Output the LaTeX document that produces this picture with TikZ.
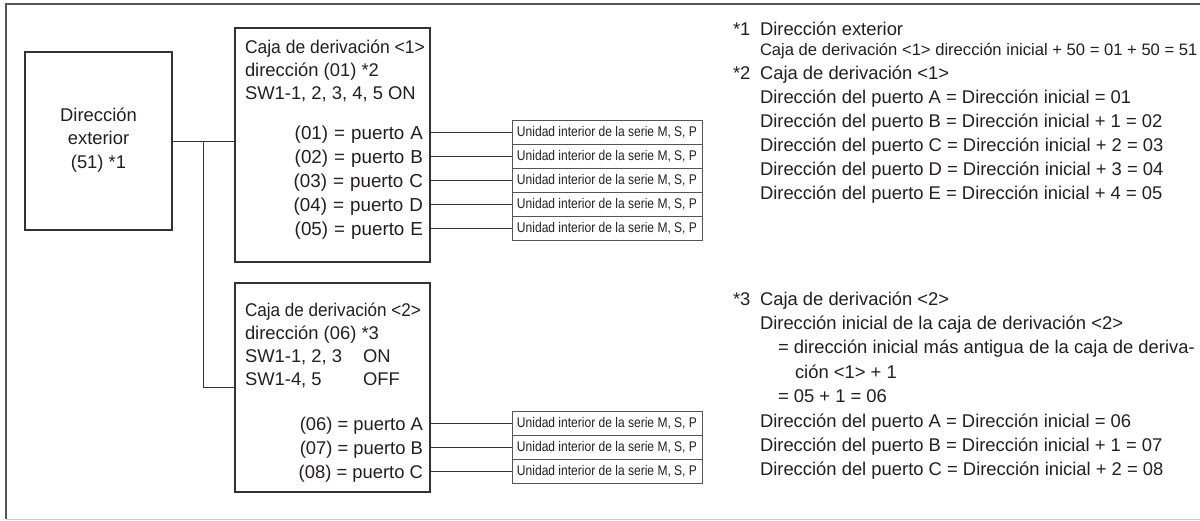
\documentclass[tikz,border=0pt]{standalone}
\usepackage{fontspec}
\setmainfont{Liberation Sans}
\usetikzlibrary{calc}
\definecolor{ink}{HTML}{231F20}
\definecolor{edge}{HTML}{333333}
\definecolor{frame}{HTML}{555555}
\definecolor{lightframe}{HTML}{CCCCCC}
\newcommand\mainfs{\fontsize{18.4}{23.3}\selectfont}
\newcommand\widefs{\fontsize{18.8}{23.3}\selectfont\spaceskip=6pt\relax}
\newcommand\smallfs{\fontsize{16.6}{20}\selectfont}
\newcommand\unitfs{\fontsize{14}{16}\selectfont}
\begin{document}
\begin{tikzpicture}[x=1pt,y=-1pt,
  every node/.style={inner sep=0pt,outer sep=0pt,text=ink,font=\mainfs},
  box/.style={draw=edge,line width=1.2pt,fill=white},
  unit/.style={draw=frame,line width=1pt,minimum width=190pt,minimum height=24pt,
     font=\unitfs},
  conn/.style={draw=edge,line width=1pt},
  lbl/.style={anchor=base west},
  port/.style={anchor=base east}]
\useasboundingbox (0,0) rectangle (1200,520);
% frame
\draw[frame,line width=1.3pt] (1200,4) -- (6,4) -- (6,519);
\draw[lightframe,line width=1pt] (6,519) -- (1200,519);

% outdoor unit
\node[box,minimum width=147pt,minimum height=178pt] (out) at (98.5,141) {};
\node[align=center] (outt) at (98.5,140) {Dirección\\exterior\\(51) *1};

% branch boxes
\node[box,minimum width=195pt,minimum height=234pt] (b1) at (332.5,145) {};
\node[box,minimum width=195pt,minimum height=209pt] (b2) at (332.5,387.5) {};

\coordinate (j) at (203,141);
\draw[conn] (out.east) -- (b1.west |- out.east);
\draw[conn] (j) |- (b2.west);

% box 1 text
\node[lbl] (t11) at (245,53) {\scalebox{0.95}[1]{Caja de derivación <1>}};
\node[lbl] (t12) at (245,76) {dirección (01) *2};
\node[lbl] (t13) at (245,99) {SW1-1, 2, 3, 4, 5 ON};
\node[port,font=\widefs] (p1) at (423,139) {(01) = puerto A};
\node[port,font=\widefs] (p2) at (423,163) {(02) = puerto B};
\node[port,font=\widefs] (p3) at (423,187) {(03) = puerto C};
\node[port,font=\widefs] (p4) at (423,211) {(04) = puerto D};
\node[port,font=\widefs] (p5) at (423,235) {(05) = puerto E};

% box 2 text
\node[lbl] (t21) at (245,316) {\scalebox{0.93}[1]{Caja de derivación <2>}};
\node[lbl] (t22) at (245,339) {dirección (06) *3};
\node[lbl] (t23) at (245,362) {SW1-1, 2, 3};
\node[lbl] (t23b) at (363,362) {ON};
\node[lbl] (t24) at (245,385) {SW1-4, 5};
\node[lbl] (t24b) at (363,385) {OFF};
\node[port] (q1) at (423,430) {(06) = puerto A};
\node[port] (q2) at (423,454) {(07) = puerto B};
\node[port] (q3) at (423,478) {(08) = puerto C};

% indoor units
\foreach \i/\y in {1/132,2/156,3/180,4/204,5/228}{
  \node[unit] (u\i) at (607,\y) {\scalebox{0.86}[1]{Unidad interior de la serie M, S, P}};
  \draw[conn] (b1.east |- u\i.west) -- (u\i.west);
}
\foreach \i/\y in {6/423,7/447,8/471}{
  \node[unit] (u\i) at (607,\y) {\scalebox{0.86}[1]{Unidad interior de la serie M, S, P}};
  \draw[conn] (b2.east |- u\i.west) -- (u\i.west);
}

% notes
\node[lbl] (n1) at (733,35) {*1};
\node[lbl] (n1a) at (760,35) {Dirección exterior};
\node[lbl,font=\smallfs] (n1b) at (760,55) {Caja de derivación <1> dirección inicial + 50 = 01 + 50 = 51};
\node[lbl] (n2) at (733,79) {*2};
\node[lbl] (n2a) at (760,79) {Caja de derivación <1>};
\node[lbl] (n2b) at (760,103) {Dirección del puerto A = Dirección inicial = 01};
\node[lbl] (n2c) at (760,127) {Dirección del puerto B = Dirección inicial + 1 = 02};
\node[lbl] (n2d) at (760,151) {Dirección del puerto C = Dirección inicial + 2 = 03};
\node[lbl] (n2e) at (760,175) {Dirección del puerto D = Dirección inicial + 3 = 04};
\node[lbl] (n2f) at (760,199) {Dirección del puerto E = Dirección inicial + 4 = 05};

\node[lbl] (n3) at (733,305) {*3};
\node[lbl] (n3a) at (760,305) {Caja de derivación <2>};
\node[lbl] (n3b) at (760,329) {Dirección inicial de la caja de derivación <2>};
\node[lbl] (n3c) at (778,353) {= dirección inicial más antigua de la caja de deriva-};
\node[lbl] (n3d) at (795,378) {ción <1> + 1};
\node[lbl] (n3e) at (778,402) {= 05 + 1 = 06};
\node[lbl] (n3f) at (760,427) {Dirección del puerto A = Dirección inicial = 06};
\node[lbl] (n3g) at (760,451) {Dirección del puerto B = Dirección inicial + 1 = 07};
\node[lbl] (n3h) at (760,475) {Dirección del puerto C = Dirección inicial + 2 = 08};
\end{tikzpicture}
\end{document}
